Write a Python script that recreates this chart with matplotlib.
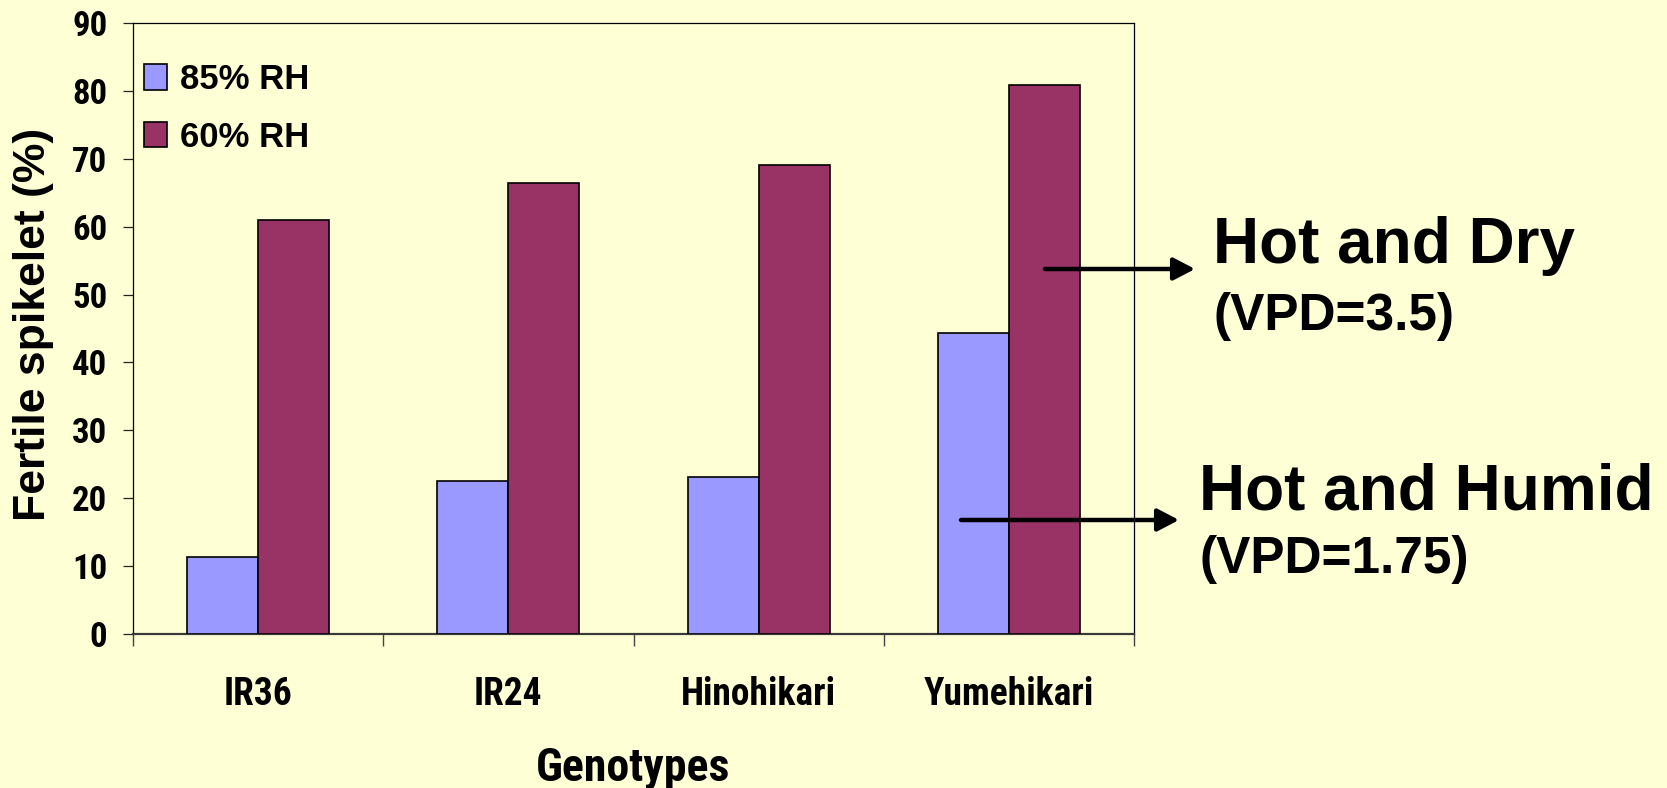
import numpy as np
import matplotlib
matplotlib.use("Agg")
import matplotlib.pyplot as plt
import matplotlib.font_manager as fm

# Data
genotypes = ["IR36", "IR24", "Hinohikari", "Yumehikari"]
series_names = ["85% RH", "60% RH"]
rh85 = [11.4, 22.5, 23.1, 44.4]
rh60 = [60.9, 66.4, 69.0, 80.9]
y_ticks = [0, 10, 20, 30, 40, 50, 60, 70, 80, 90]

BG = "#FFFFD6"
BLUE = "#9999FF"
PLUM = "#993366"

# Pick a condensed sans face for the tick labels and axis title
_installed = {f.name for f in fm.fontManager.ttflist}
_narrow_candidates = ["Liberation Sans Narrow", "Arial Narrow", "Roboto Condensed",
                      "Archivo Narrow", "PT Sans Narrow", "IBM Plex Sans Condensed",
                      "Open Sans Condensed"]
NARROW = [n for n in _narrow_candidates if n in _installed][:1] + ["Liberation Sans", "DejaVu Sans"]
WIDE = ["Liberation Sans", "DejaVu Sans"]

W, H = 1667, 788
fig = plt.figure(figsize=(W / 100, H / 100), dpi=100, facecolor=BG)
ax = fig.add_axes([132.7 / W, 1 - 634.3 / H, (1134.3 - 132.7) / W, (634.3 - 22.7) / H])
ax.set_facecolor(BG)

x = np.arange(len(genotypes))
bw = 0.284
ax.bar(x - bw / 2, rh85, width=bw, color=BLUE, edgecolor="black", linewidth=1.2,
       label=series_names[0], zorder=3)
ax.bar(x + bw / 2, rh60, width=bw, color=PLUM, edgecolor="black", linewidth=1.2,
       label=series_names[1], zorder=3)

ax.set_xlim(-0.5, len(genotypes) - 0.5)
ax.set_ylim(0, 90)

# Y axis
ax.set_yticks(y_ticks)
ax.set_yticklabels([str(v) for v in y_ticks], family=NARROW, fontweight="bold", fontsize=25)
ax.tick_params(axis="y", direction="out", length=7.2, width=0.9, pad=11, color="#222222")

# X axis: labels at category centres, tick marks between categories
ax.set_xticks(x)
ax.set_xticklabels(genotypes, family=NARROW, fontweight="bold", fontsize=27)
ax.tick_params(axis="x", which="major", length=0, pad=30)
ax.set_xticks(np.arange(-0.5, len(genotypes), 1.0), minor=True)
ax.tick_params(axis="x", which="minor", direction="out", length=8.6, width=1.0, color="#444444")

for side in ["left", "top", "right"]:
    ax.spines[side].set_color("black")
    ax.spines[side].set_linewidth(0.9)
ax.spines["bottom"].set_color("#3a3a3a")
ax.spines["bottom"].set_linewidth(1.6)

# Axis titles
fig.text(33 / W, 1 - 324 / H, "Fertile spikelet (%)", rotation=90, ha="center", va="center",
         family=WIDE, fontweight="bold", fontsize=32)
fig.text(633 / W, 1 - 781 / H, "Genotypes", ha="center", va="baseline",
         family=NARROW, fontweight="bold", fontsize=33)

# Legend
leg = ax.legend(loc="upper left", bbox_to_anchor=(0.0113, 0.934), frameon=False,
                prop={"family": WIDE, "weight": "bold", "size": 25},
                handlelength=0.66, handleheight=0.74, handletextpad=0.37,
                labelspacing=0.71, borderpad=0, borderaxespad=0)

# Condition annotations
fig.text(1213 / W, 1 - 263 / H, "Hot and Dry", ha="left", va="baseline",
         family=WIDE, fontweight="bold", fontsize=46)
fig.text(1213 / W, 1 - 330 / H, "(VPD=3.5)", ha="left", va="baseline",
         family=WIDE, fontweight="bold", fontsize=37)
fig.text(1199 / W, 1 - 510 / H, "Hot and Humid", ha="left", va="baseline",
         family=WIDE, fontweight="bold", fontsize=46)
fig.text(1199 / W, 1 - 573 / H, "(VPD=1.75)", ha="left", va="baseline",
         family=WIDE, fontweight="bold", fontsize=37)

arrow_style = dict(arrowstyle="-|>,head_length=0.65,head_width=0.34", mutation_scale=20,
                   lw=3.2, color="black", shrinkA=0, shrinkB=0)
ax.annotate("", xy=(1195 / W, 1 - 269 / H), xytext=(1045 / W, 1 - 269 / H),
            xycoords="figure fraction", textcoords="figure fraction",
            arrowprops=arrow_style, zorder=5, annotation_clip=False)
ax.annotate("", xy=(1179 / W, 1 - 520 / H), xytext=(961 / W, 1 - 520 / H),
            xycoords="figure fraction", textcoords="figure fraction",
            arrowprops=arrow_style, zorder=5, annotation_clip=False)

fig.savefig("out.png", dpi=100, facecolor=BG)
